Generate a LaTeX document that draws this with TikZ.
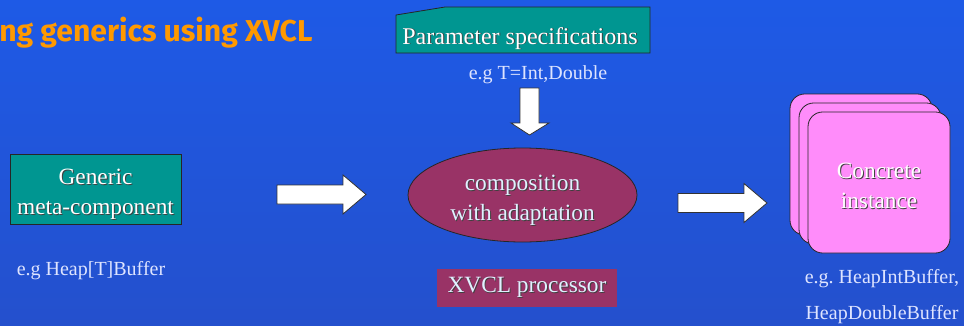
\documentclass[tikz,border=0pt]{standalone}
\usepackage{fontspec}
\setmainfont{Liberation Serif}
\newfontfamily\titlefont{Fira Sans}
\usetikzlibrary{shapes.geometric}

\definecolor{slideblue}{RGB}{30,90,230}
\definecolor{slidebluedark}{RGB}{36,80,205}
\definecolor{titleorange}{RGB}{255,153,0}
\definecolor{tealfill}{RGB}{0,150,145}
\definecolor{plumfill}{RGB}{153,51,102}
\definecolor{pinkfill}{RGB}{255,140,250}
\definecolor{paletext}{RGB}{222,228,255}
\definecolor{icetext}{RGB}{225,240,255}

% white text with a small dark drop shadow
\newcommand{\shadowed}[1]{\leavevmode\rlap{\kern0.7pt\raisebox{-0.7pt}{\textcolor{black!75}{#1}}}#1}
% two centred lines, last baseline a fixed distance below the node centre
\newcommand{\twolines}[2]{\raisebox{-19.3pt}[0pt][0pt]{\begin{tabular}[b]{@{}c@{}}\shadowed{#1}\\\shadowed{#2}\end{tabular}}}

\begin{document}
\begin{tikzpicture}[x=0.75pt,y=-0.75pt]
    \tikzstyle{tealbox}=[fill=tealfill, draw=black!85, line width=0.6pt]
    \tikzstyle{plumbox}=[fill=plumfill, inner sep=0pt]
    \tikzstyle{card}=[fill=pinkfill, draw=black!85, line width=0.6pt, rounded corners=11pt]
    \tikzstyle{blockarrow}=[fill=white, draw=black!80, line width=0.6pt]
    \tikzstyle{bigtext}=[font=\fontsize{17.5}{22.5}\selectfont]
    \tikzstyle{note}=[font=\fontsize{15}{27}\selectfont\frenchspacing, text=paletext, align=center]

    \useasboundingbox (0,0) rectangle (964,325);
    \shade[top color=slideblue, bottom color=slidebluedark] (0,0) rectangle (964,325);

    \node[anchor=base west, text=titleorange, font=\titlefont\bfseries\fontsize{22.6}{26}\selectfont, inner sep=0pt] (title) at (-1,41) {ng generics using XVCL};

    % parameter box with cut corner
    \filldraw[tealbox] (396,15) -- (445,7) -- (650,7) -- (650,53) -- (396,53) -- cycle;
    \node[anchor=base, text=white, font=\fontsize{18}{22}\selectfont, inner sep=0pt] (param) at (520,44) {\shadowed{Parameter specifications}};
    \node[anchor=base, note, inner sep=0pt] (paramex) at (538,79) {e.g T=Int,Double};

    % generic component
    \node[tealbox, bigtext, text=white, minimum width=128.25pt, minimum height=52.5pt, inner sep=0pt] (generic) at (95.5,189)
      {\twolines{Generic}{meta-component}};
    \node[anchor=base, note, inner sep=0pt] (genericex) at (91,275) {e.g Heap[T]Buffer};

    % processor
    \node[ellipse, fill=plumfill, draw=black!85, line width=0.6pt, bigtext, text=icetext, minimum width=171.75pt, minimum height=70.5pt, inner sep=0pt] (compose) at (522.5,195)
      {\twolines{composition}{with adaptation}};
    \node[plumbox, bigtext, text=icetext, minimum width=135pt, minimum height=28.5pt] (xvcl) at (527,288) {\shadowed{XVCL processor}};

    % stacked instances
    \foreach \d in {18,9} {\filldraw[card] (808-\d,112-\d) rectangle (950-\d,253-\d);}
    \node[card, bigtext, text=white, minimum width=106.5pt, minimum height=105.75pt, inner sep=0pt] (instance) at (879,182.5)
      {\twolines{Concrete}{instance}};
    \node[note, inner sep=0pt, anchor=base] (instanceex) at (882,319) {e.g. HeapIntBuffer,\\HeapDoubleBuffer};

    % block arrows
    \foreach \xa/\ya in {277/194.5,678/203}
      {\filldraw[blockarrow] (\xa,\ya-9.5) -- (\xa+66,\ya-9.5) -- (\xa+66,\ya-19.5) -- (\xa+89,\ya) -- (\xa+66,\ya+19.5) -- (\xa+66,\ya+9.5) -- (\xa,\ya+9.5) -- cycle;}
    \filldraw[blockarrow] (520,88) -- (539,88) -- (539,123) -- (549,123) -- (529.5,135) -- (511,123) -- (520,123) -- cycle;
\end{tikzpicture}
\end{document}
